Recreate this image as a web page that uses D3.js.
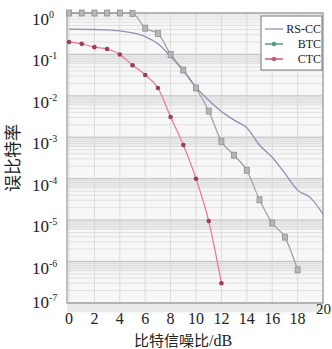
<!DOCTYPE html>
<html>
<head>
<meta charset="utf-8">
<script src="https://cdn.jsdelivr.net/npm/d3@7"></script>
<style>
  body { margin: 0; background: #fff; }
  svg { display: block; }
</style>
</head>
<body>
<svg id="chart" width="332" height="349"></svg>
<script>
// BER values
let snrRS = [0, 2, 4, 5, 6, 7, 8, 9, 10, 11, 12, 13, 14, 15, 16, 17, 18, 19, 20];
let berRS = [0.41, 0.40, 0.37, 0.33, 0.27, 0.18, 0.09, 0.04, 0.016, 0.0078, 0.0042, 0.0026, 0.0017, 6.5e-4, 3.3e-4, 1.35e-4, 5.3e-5, 3.5e-5, 1.4e-5];

let snrBTC = [0, 1, 2, 3, 4, 5, 6, 7, 8, 9, 10, 11, 12, 13, 14, 15, 16, 17, 18];
let berBTC = [1, 1, 1, 1, 1, 0.98, 0.43, 0.32, 0.10, 0.042, 0.0155, 0.0043, 8e-4, 3.7e-4, 1.6e-4, 3.1e-5, 8.5e-6, 3.9e-6, 6.3e-7];

let snrCTC = [0, 1, 2, 3, 4, 5, 6, 7, 8, 9, 10, 11, 12];
let berCTC = [0.20, 0.18, 0.15, 0.135, 0.10, 0.055, 0.032, 0.0155, 0.0031, 6.5e-4, 1e-4, 9.5e-6, 3e-7];

let xTicks = [0, 2, 4, 6, 8, 10, 12, 14, 16, 18, 20];
let yExponents = [0, -1, -2, -3, -4, -5, -6, -7];

let legendNames = ['RS-CC', 'BTC', 'CTC'];

let svg = d3.select('#chart');

let x = d3.scaleLinear().domain([-0.16, 20]).range([67, 323]);
let y = d3.scaleLog().domain([1e-7, 1]).range([303, 13]);

// plot background
svg.append('rect')
  .attr('x', x.range()[0]).attr('y', y.range()[1])
  .attr('width', x.range()[1] - x.range()[0])
  .attr('height', y.range()[0] - y.range()[1])
  .style('fill', '#f7f7f7');

// light bands around each decade, like the scan
yExponents.slice(1).forEach(e => {
  svg.append('rect')
    .attr('x', x.range()[0]).attr('y', y(Math.pow(10, e)) - 1)
    .attr('width', x.range()[1] - x.range()[0])
    .attr('height', y(Math.pow(10, e - 0.25)) - y(Math.pow(10, e)))
    .style('fill', '#ebebeb');
});

// minor horizontal grid
let minor = [];
for (let e = -7; e < 0; e++) {
  for (let m = 2; m < 10; m++) minor.push(m * Math.pow(10, e));
}
svg.append('g')
  .selectAll('line')
  .data(minor)
  .join('line')
  .attr('x1', x.range()[0]).attr('x2', x.range()[1])
  .attr('y1', d => y(d)).attr('y2', d => y(d))
  .style('stroke', '#dadada')
  .style('stroke-width', 0.8);

// major horizontal grid
svg.append('g')
  .selectAll('line')
  .data(yExponents)
  .join('line')
  .attr('x1', x.range()[0]).attr('x2', x.range()[1])
  .attr('y1', d => y(Math.pow(10, d))).attr('y2', d => y(Math.pow(10, d)))
  .style('stroke', '#c2c2c2')
  .style('stroke-width', 1);

// vertical grid
svg.append('g')
  .selectAll('line')
  .data(xTicks)
  .join('line')
  .attr('x1', d => x(d)).attr('x2', d => x(d))
  .attr('y1', y.range()[1]).attr('y2', y.range()[0])
  .style('stroke', '#d4d4d4')
  .style('stroke-width', 0.8);

// frame
svg.append('rect')
  .attr('x', x.range()[0]).attr('y', y.range()[1])
  .attr('width', x.range()[1] - x.range()[0])
  .attr('height', y.range()[0] - y.range()[1])
  .style('fill', 'none')
  .style('stroke', '#9a9a9a')
  .style('stroke-width', 1.2);

// x tick labels ("20" sits raised at the right edge in the original)
svg.append('g')
  .selectAll('text')
  .data(xTicks)
  .join('text')
  .attr('x', d => d === 20 ? 331 : x(d))
  .attr('y', d => d === 20 ? 314 : 324)
  .attr('text-anchor', d => d === 20 ? 'end' : 'middle')
  .style('font-family', '"Liberation Serif", serif')
  .style('font-size', d => d === 20 ? '15px' : '16px')
  .style('fill', '#222')
  .text(d => d);

// y tick labels: 10 with exponent
let yLab = svg.append('g')
  .selectAll('text')
  .data(yExponents)
  .join('text')
  .attr('x', 32)
  .attr('y', d => y(Math.pow(10, d)) + (d === -7 ? 5 : 12))
  .style('font-family', '"Liberation Serif", serif')
  .style('font-size', '17px')
  .style('fill', '#222');
yLab.append('tspan').text('10');
yLab.append('tspan')
  .attr('dy', -7)
  .style('font-size', '10px')
  .text(d => d);

// axis titles
svg.append('text')
  .attr('transform', 'translate(19, 158) rotate(-90)')
  .attr('text-anchor', 'middle')
  .style('font-family', '"Noto Sans CJK SC", sans-serif')
  .style('font-size', '17px')
  .style('fill', '#222')
  .text('误比特率');

let xTitle = svg.append('text')
  .attr('x', 183).attr('y', 346)
  .attr('text-anchor', 'middle')
  .style('font-family', '"Noto Sans CJK SC", sans-serif')
  .style('font-size', '15px')
  .style('fill', '#222');
xTitle.append('tspan').text('比特信噪比');
xTitle.append('tspan')
  .style('font-family', '"Liberation Serif", serif')
  .style('font-size', '16px')
  .text('/dB');

// curves
let line = d3.line()
  .x(d => x(d[0]))
  .y(d => y(d[1]))
  .curve(d3.curveMonotoneX);

let rsData = d3.zip(snrRS, berRS);
let btcData = d3.zip(snrBTC, berBTC);
let ctcData = d3.zip(snrCTC, berCTC);

svg.append('path')
  .datum(btcData)
  .attr('d', line)
  .style('fill', 'none')
  .style('stroke', '#a0a4a2')
  .style('stroke-width', 1.3);

svg.append('path')
  .datum(rsData)
  .attr('d', line)
  .style('fill', 'none')
  .style('stroke', '#8d91b4')
  .style('stroke-width', 1.3);

svg.append('path')
  .datum(ctcData)
  .attr('d', line)
  .style('fill', 'none')
  .style('stroke', '#e8798c')
  .style('stroke-width', 1.2);

// BTC square markers
svg.append('g')
  .selectAll('rect')
  .data(btcData)
  .join('rect')
  .attr('x', d => x(d[0]) - 2.5)
  .attr('y', d => y(d[1]) - 3)
  .attr('width', 5).attr('height', 6)
  .style('fill', '#b4b8b4')
  .style('stroke', '#8c908c')
  .style('stroke-width', 0.8);

// CTC dot markers
svg.append('g')
  .selectAll('circle')
  .data(ctcData)
  .join('circle')
  .attr('cx', d => x(d[0]))
  .attr('cy', d => y(d[1]))
  .attr('r', 2.3)
  .style('fill', '#9a3e5c');

// legend
let legend = svg.append('g');
legend.append('rect')
  .attr('x', 261).attr('y', 16)
  .attr('width', 61).attr('height', 54)
  .style('fill', '#fff')
  .style('stroke', '#777')
  .style('stroke-width', 1);

let legendColor = d3.scaleOrdinal()
  .domain(legendNames)
  .range(['#9ea2c0', '#4f9c88', '#c45a78']);
let legendY = d3.scalePoint().domain(legendNames).range([29, 59]);

legend.selectAll('line')
  .data(legendNames)
  .join('line')
  .attr('x1', 265).attr('x2', 283)
  .attr('y1', d => legendY(d)).attr('y2', d => legendY(d))
  .style('stroke', d => legendColor(d))
  .style('stroke-width', 1.5);

legend.selectAll('circle')
  .data(legendNames.slice(1))
  .join('circle')
  .attr('cx', 274)
  .attr('cy', d => legendY(d))
  .attr('r', 2.3)
  .style('fill', d => legendColor(d));

legend.selectAll('text')
  .data(legendNames)
  .join('text')
  .attr('x', 321)
  .attr('y', d => legendY(d) + 4)
  .attr('text-anchor', 'end')
  .style('font-family', '"Liberation Serif", serif')
  .style('font-size', '12px')
  .style('fill', '#222')
  .text(d => d);
</script>
</body>
</html>
